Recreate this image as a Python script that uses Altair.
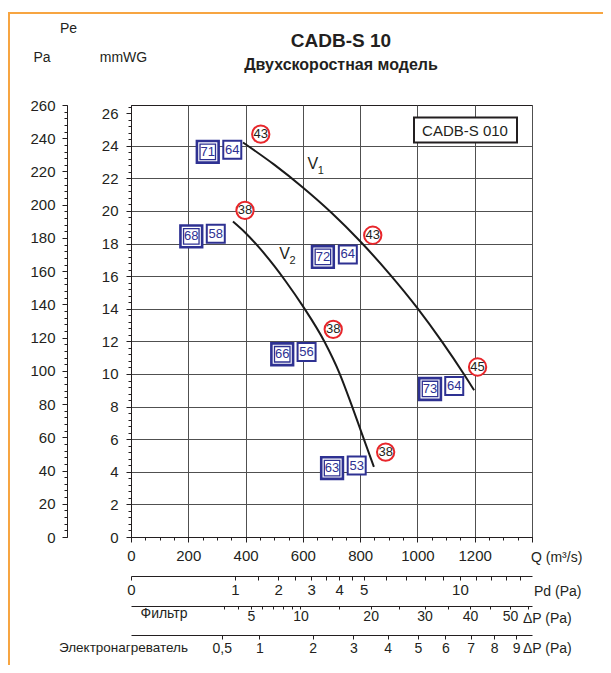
import altair as alt
import pandas as pd

# ---------------- data ----------------
# fan curves: Q (m3/h) vs static pressure (mmWG)
v1_q = [391, 500, 600, 700, 800, 900, 1000, 1085, 1163, 1198]
v1_mm = [24.2, 22.84, 21.44, 19.89, 18.14, 16.19, 14.04, 12.0, 9.97, 9.0]
v2_q = [356, 400, 450, 500, 540, 600, 676, 728, 769, 806, 848]
v2_mm = [19.35, 18.65, 17.7, 16.63, 15.69, 14.16, 11.96, 10.04, 8.15, 6.34, 4.3]

# red circles (noise values)
noise_q = [453, 398, 844, 706, 1210, 889]
noise_mm = [24.71, 20.04, 18.51, 12.74, 10.43, 5.21]
noise_lbl = ["43", "38", "43", "38", "45", "38"]

# blue double-framed boxes
dbl_q = [268, 210.5, 670, 528, 1044, 702]
dbl_mm = [23.63, 18.44, 17.18, 11.21, 9.08, 4.23]
dbl_lbl = ["71", "68", "72", "66", "73", "63"]
# blue single-framed boxes
sgl_q = [353.6, 296, 757, 613, 1128.5, 788]
sgl_mm = [23.75, 18.6, 17.33, 11.35, 9.26, 4.38]
sgl_lbl = ["64", "58", "64", "56", "64", "53"]

# curve names
curve_lbl_q = [635, 536]
curve_lbl_mm = [22.87, 17.34]
curve_lbl = ["V", "V"]
curve_sub = ["1", "2"]

# axes
q_ticks = list(range(0, 1401, 200))
q_minor = list(range(0, 1401, 50))
mm_ticks = list(range(0, 27, 2))
mm_grid = list(range(0, 25, 2))
mm_minor = [round(i * 0.4, 1) for i in range(67)]
pa_ticks = list(range(0, 261, 20))
pa_minor = list(range(0, 261, 4))
pd_ticks = [0, 1, 1.5, 2, 2.5, 3, 3.5, 4, 4.5, 5, 6, 7, 8, 9, 10, 11, 12, 13, 14]
pd_labels = [0, 1, 2, 3, 4, 5, 10]
fil_ticks = [3, 4, 5, 6, 7, 8, 9, 10, 15, 20, 25, 30, 35, 40, 45, 50, 55]
fil_labels = [5, 10, 20, 30, 40, 50]
heat_ticks = [0.5, 1, 2, 3, 4, 5, 6, 7, 8, 9]

Q_DOM = [0, 1400]
MM_DOM = [0, 26.5]
PA_DOM = [0, 260]
PD_DOM = [0, 14.86]
FIL_DOM = [0, 56]
HEAT_DOM = [0, 9.76]

# ---------------- styling ----------------
FONT = "Liberation Sans"
INK = "#231f20"
NAVY = "#2e3192"
RED = "#e8262b"
GRID = "#505050"
ORANGE = "#f7a541"
W, H = 401, 432

one = pd.DataFrame({"v": [0.0]})


def sc(dom, stype="linear"):
    return alt.Scale(type=stype, domain=dom, nice=False, zero=False)


def qx(field="q", axis=None, dom=Q_DOM, stype="linear"):
    return alt.X(f"{field}:Q", scale=sc(dom, stype), axis=axis)


def my(field="mm", axis=None, dom=MM_DOM):
    return alt.Y(f"{field}:Q", scale=sc(dom), axis=axis)


base_ax = dict(labelFont=FONT, labelColor=INK, tickColor=INK, domainColor=INK,
               labelFontSize=15, title=None, labelOverlap=False, labelBound=False)


def x_axis_layer(dom, stype="linear", **kw):
    opts = dict(base_ax)
    opts.update(kw)
    return alt.Chart(one).mark_point(opacity=0).encode(
        x=qx("v", alt.Axis(orient="bottom", labelFlush=False, **opts), dom, stype))


def y_axis_layer(dom, **kw):
    opts = dict(base_ax)
    opts.update(kw)
    return alt.Chart(one).mark_point(opacity=0).encode(
        y=my("v", alt.Axis(orient="left", **opts), dom))


axes = [
    # Q axis with vertical grid
    x_axis_layer(Q_DOM, values=q_ticks, format="d", tickSize=5, labelPadding=6,
                 labelExpr="datum.value == 1400 ? '' : datum.label",
                 grid=True, gridColor=GRID, gridWidth=1),
    x_axis_layer(Q_DOM, values=q_minor, tickSize=3, labels=False, domain=False, grid=False),
    # mmWG axis
    y_axis_layer(MM_DOM, values=mm_ticks, tickSize=5, labelPadding=8, grid=False),
    y_axis_layer(MM_DOM, values=mm_grid, ticks=False, labels=False, domain=False,
                 grid=True, gridColor=GRID, gridWidth=1),
    y_axis_layer(MM_DOM, values=mm_minor, tickSize=3, labels=False, domain=False, grid=False),
    # Pa axis
    y_axis_layer(PA_DOM, values=pa_ticks, tickSize=5, labelPadding=7, offset=64, grid=False),
    y_axis_layer(PA_DOM, values=pa_minor, tickSize=3, labels=False, domain=False, offset=64, grid=False),
    # Pd axis
    x_axis_layer(PD_DOM, "sqrt", values=pd_ticks, offset=39, tickSize=4, labelPadding=2, grid=False,
                 format="~g",
                 labelExpr="indexof(%s, datum.value) >= 0 ? datum.label : ''" % str(pd_labels)),
    # filter pressure drop
    x_axis_layer(FIL_DOM, "sqrt", values=fil_ticks, offset=69, tickSize=3, labelPadding=0, grid=False,
                 labelFontSize=14, format="~g",
                 labelExpr="indexof(%s, datum.value) >= 0 ? datum.label : ''" % str(fil_labels)),
    # heater pressure drop
    x_axis_layer(HEAT_DOM, "sqrt", values=heat_ticks, offset=98, tickSize=4, labelPadding=2, grid=False,
                 labelFontSize=14, format="~g", labelExpr="replace(datum.label, '.', ',')"),
]

curves = pd.DataFrame({
    "q": v1_q + v2_q,
    "mm": v1_mm + v2_mm,
    "curve": ["V1"] * len(v1_q) + ["V2"] * len(v2_q),
})
lines = alt.Chart(curves).mark_line(color="#1a1a1a", strokeWidth=2, interpolate="monotone").encode(
    x=qx(), y=my(), detail="curve:N")

noise = pd.DataFrame({"q": noise_q, "mm": noise_mm, "t": noise_lbl})
circ = alt.Chart(noise).mark_point(shape="circle", size=300, fill="white", fillOpacity=1,
                                   stroke=RED, strokeWidth=2, opacity=1).encode(x=qx(), y=my())
circ_t = alt.Chart(noise).mark_text(font=FONT, fontSize=13, color=INK).encode(x=qx(), y=my(), text="t:N")

dbl = pd.DataFrame({"q": dbl_q, "mm": dbl_mm, "t": dbl_lbl})
dbl_out = alt.Chart(dbl).mark_point(shape="square", size=471, fill="white", fillOpacity=1,
                                    stroke=NAVY, strokeWidth=2.6, opacity=1).encode(x=qx(), y=my())
dbl_in = alt.Chart(dbl).mark_point(shape="square", size=240, fill="white", fillOpacity=1,
                                   stroke=NAVY, strokeWidth=1.3, opacity=1).encode(x=qx(), y=my())
dbl_t = alt.Chart(dbl).mark_text(font=FONT, fontSize=13, color=NAVY).encode(x=qx(), y=my(), text="t:N")

sgl = pd.DataFrame({"q": sgl_q, "mm": sgl_mm, "t": sgl_lbl})
sgl_box = alt.Chart(sgl).mark_point(shape="square", size=324, fill="white", fillOpacity=1,
                                    stroke=NAVY, strokeWidth=2, opacity=1).encode(x=qx(), y=my())
sgl_t = alt.Chart(sgl).mark_text(font=FONT, fontSize=13, color=NAVY).encode(x=qx(), y=my(), text="t:N")

cl = pd.DataFrame({"q": curve_lbl_q, "mm": curve_lbl_mm, "t": curve_lbl, "s": curve_sub})
cl_t = alt.Chart(cl).mark_text(font=FONT, fontSize=16, color=INK).encode(x=qx(), y=my(), text="t:N")
cl_s = alt.Chart(cl).mark_text(font=FONT, fontSize=11, color=INK, dx=8, dy=7).encode(x=qx(), y=my(), text="s:N")


def label(text, x, y, size=14, align="left", baseline="alphabetic", weight="normal"):
    return alt.Chart(one).mark_text(text=text, font=FONT, fontSize=size, color=INK, align=align,
                                    baseline=baseline, fontWeight=weight).encode(
        x=alt.value(x), y=alt.value(y))


model_box = alt.Chart(one).mark_rect(fill="white", stroke=INK, strokeWidth=2).encode(
    x=alt.value(283), x2=alt.value(386), y=alt.value(12.5), y2=alt.value(37.5))

frame_top = alt.Chart(one).mark_rule(color=ORANGE, strokeWidth=2).encode(
    x=alt.value(-123), x2=alt.value(W + 71), y=alt.value(-92))
frame_left = alt.Chart(one).mark_rule(color=ORANGE, strokeWidth=2).encode(
    x=alt.value(-122), y=alt.value(-92), y2=alt.value(H + 128))

texts = [
    label("CADB-S 10", 210, -58.5, 19, "center", weight="bold"),
    label("Двухскоростная модель", 210, -35.5, 16, "center", weight="bold"),
    label("Pe", -62.5, -71.7, 14, "center"),
    label("Pa", -89, -43.3, 14, "center"),
    label("mmWG", -7.5, -43.3, 14, "center"),
    label("CADB-S 010", 334, 30.5, 15, "center"),
    label("Q (m³/s)", 400, 456.7, 14),
    label("Pd (Pa)", 403, 490.7, 14),
    label("ΔP (Pa)", 392, 517.7, 14),
    label("ΔP (Pa)", 392, 547.7, 14),
    label("Фильтр", 33, 513.3, 14, "center"),
    label("Электронагреватель", 57, 547, 13.5, "right"),
]

chart = alt.layer(
    *axes, lines, circ, circ_t, dbl_out, dbl_in, dbl_t, sgl_box, sgl_t, cl_t, cl_s,
    model_box, frame_top, frame_left, *texts
).resolve_scale(x="independent", y="independent").properties(
    width=W, height=H,
    padding={"left": 123, "top": 97, "right": 71, "bottom": 128},
    autosize=alt.AutoSizeParams(type="none"),
    background="white",
).configure_view(stroke=INK, strokeWidth=1)

chart.save("out.html", embed_options={"renderer": "svg", "actions": False})
